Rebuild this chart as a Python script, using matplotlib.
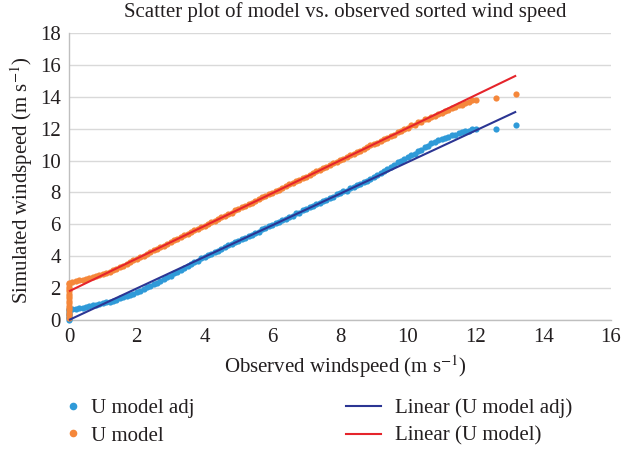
import matplotlib
matplotlib.use("Agg")
import matplotlib.pyplot as plt
from matplotlib.lines import Line2D

plt.rcParams["font.family"] = ["Liberation Serif", "DejaVu Serif"]
plt.rcParams["mathtext.fontset"] = "stix"

# Simulated speeds at calm (observed = 0) hours
calm_adj = [0.0, 0.1, 0.2, 0.3, 0.4, 0.5, 0.6, 0.66]
calm_model = [0.15, 0.3, 0.45, 0.6, 0.75, 0.9, 1.05, 1.2, 1.35, 1.5, 1.65,
              1.8, 1.95, 2.1, 2.25, 2.35]

# Sorted observed wind speed (m/s)
observed = [
    0.1, 0.2, 0.3, 0.4, 0.5, 0.6, 0.7, 0.8, 0.9, 1.0,
    1.1, 1.2, 1.3, 1.4, 1.5, 1.6, 1.7, 1.8, 1.9, 2.0,
    2.1, 2.2, 2.3, 2.4, 2.5, 2.6, 2.7, 2.8, 2.9, 3.0,
    3.1, 3.2, 3.3, 3.4, 3.5, 3.6, 3.7, 3.8, 3.9, 4.0,
    4.1, 4.2, 4.3, 4.4, 4.5, 4.6, 4.7, 4.8, 4.9, 5.0,
    5.1, 5.2, 5.3, 5.4, 5.5, 5.6, 5.7, 5.8, 5.9, 6.0,
    6.1, 6.2, 6.3, 6.4, 6.5, 6.6, 6.7, 6.8, 6.9, 7.0,
    7.1, 7.2, 7.3, 7.4, 7.5, 7.6, 7.7, 7.8, 7.9, 8.0,
    8.1, 8.2, 8.3, 8.4, 8.5, 8.6, 8.7, 8.8, 8.9, 9.0,
    9.1, 9.2, 9.3, 9.4, 9.5, 9.6, 9.7, 9.8, 9.9, 10.0,
    10.1, 10.2, 10.3, 10.4, 10.5, 10.6, 10.7, 10.8, 10.9, 11.0,
    11.1, 11.2, 11.3, 11.4, 11.5, 11.6, 11.7, 11.8, 11.9, 12.0,
    12.6, 13.2,
]

# Sorted simulated wind speed, bias-adjusted model (m/s)
u_model_adj = [
    0.66, 0.70, 0.74, 0.78, 0.83, 0.87, 0.92, 0.97, 1.02, 1.06,
    1.10, 1.16, 1.22, 1.28, 1.35, 1.42, 1.50, 1.58, 1.66, 1.75,
    1.84, 1.94, 2.04, 2.14, 2.24, 2.35, 2.46, 2.57, 2.68, 2.79,
    2.92, 3.02, 3.16, 3.26, 3.40, 3.50, 3.62, 3.72, 3.86, 3.96,
    4.08, 4.15, 4.28, 4.35, 4.48, 4.55, 4.68, 4.74, 4.88, 4.94,
    5.08, 5.14, 5.28, 5.34, 5.48, 5.54, 5.68, 5.74, 5.88, 5.94,
    6.08, 6.14, 6.28, 6.34, 6.48, 6.54, 6.68, 6.74, 6.88, 6.94,
    7.08, 7.14, 7.28, 7.34, 7.48, 7.54, 7.68, 7.74, 7.88, 7.94,
    8.06, 8.12, 8.26, 8.32, 8.46, 8.52, 8.66, 8.72, 8.86, 8.94,
    9.10, 9.22, 9.34, 9.46, 9.58, 9.70, 9.90, 9.98, 10.10, 10.20,
    10.34, 10.44, 10.58, 10.68, 10.82, 10.92, 11.08, 11.14, 11.28, 11.34,
    11.42, 11.48, 11.58, 11.62, 11.72, 11.76, 11.84, 11.88, 11.96, 11.98,
    12.00, 12.22,
]

# Sorted simulated wind speed, raw model (m/s)
u_model = [
    2.40, 2.44, 2.48, 2.53, 2.58, 2.64, 2.70, 2.76, 2.82, 2.88,
    2.95, 3.02, 3.12, 3.20, 3.32, 3.40, 3.52, 3.62, 3.74, 3.82,
    3.95, 4.04, 4.16, 4.24, 4.37, 4.46, 4.58, 4.66, 4.78, 4.88,
    4.99, 5.08, 5.20, 5.30, 5.40, 5.50, 5.62, 5.70, 5.82, 5.92,
    6.03, 6.12, 6.24, 6.33, 6.45, 6.54, 6.65, 6.74, 6.87, 6.95,
    7.06, 7.15, 7.28, 7.36, 7.48, 7.57, 7.69, 7.78, 7.90, 7.98,
    8.08, 8.18, 8.30, 8.38, 8.50, 8.60, 8.72, 8.80, 8.92, 9.00,
    9.10, 9.20, 9.32, 9.40, 9.52, 9.62, 9.73, 9.82, 9.94, 10.02,
    10.12, 10.20, 10.34, 10.42, 10.54, 10.62, 10.74, 10.84, 10.96, 11.02,
    11.10, 11.22, 11.34, 11.40, 11.56, 11.62, 11.76, 11.84, 11.98, 12.06,
    12.20, 12.26, 12.40, 12.44, 12.58, 12.62, 12.74, 12.80, 12.94, 13.00,
    13.10, 13.18, 13.30, 13.34, 13.46, 13.50, 13.62, 13.66, 13.78, 13.82,
    13.95, 14.18,
]

# Linear trend lines (slope, intercept)
fit_adj = (0.99, 0.0)
fit_model = (1.025, 1.8)
fit_range = (0.0, 13.2)

C_ADJ = "#2F9AD8"
C_MODEL = "#F5873A"
C_FIT_ADJ = "#2B3593"
C_FIT_MODEL = "#E5242B"
TXT = "#231F20"
FS = 15

fig = plt.figure(figsize=(6.41, 4.54), dpi=100)
ax = fig.add_axes([69 / 641, 1 - 320 / 454, 542 / 641, 287 / 454])

ax.scatter([0.0] * len(calm_adj) + observed, calm_adj + u_model_adj,
           s=20, color=C_ADJ, linewidths=0, zorder=3, clip_on=False)
ax.scatter([0.0] * len(calm_model) + observed, calm_model + u_model,
           s=20, color=C_MODEL, linewidths=0, zorder=4, clip_on=False)

for (m, b), col in ((fit_adj, C_FIT_ADJ), (fit_model, C_FIT_MODEL)):
    xs = list(fit_range)
    ax.plot(xs, [m * x + b for x in xs], color=col, lw=1.5, zorder=5,
            solid_capstyle="butt", clip_on=False)

ax.set_xlim(0, 16)
ax.set_ylim(0, 18)
ax.set_xticks(range(0, 17, 2))
ax.set_yticks(range(0, 19, 2))
ax.grid(axis="y", color="#D9D9D9", lw=1.0)
ax.set_axisbelow(True)
for side in ("top", "right"):
    ax.spines[side].set_visible(False)
for side in ("left", "bottom"):
    ax.spines[side].set_color("#BFBFBF")
    ax.spines[side].set_linewidth(1.0)
ax.tick_params(length=0, labelsize=FS, colors=TXT)
ax.tick_params(axis="x", pad=6)
ax.tick_params(axis="y", pad=6)

fig.text(345 / 641, 1 - 12 / 454,
         "Scatter plot of model vs. observed sorted wind speed",
         ha="center", va="center", fontsize=FS, color=TXT)
fig.text(345 / 641, 1 - 367 / 454, "Observed windspeed (m s$^{-1}$)",
         ha="center", va="center", fontsize=FS, color=TXT)
fig.text(22 / 641, 1 - 180 / 454, "Simulated windspeed (m s$^{-1}$)",
         ha="center", va="center", rotation=90, fontsize=FS, color=TXT)

dot_handles = [
    Line2D([], [], ls="", marker="o", ms=5.5, mec="none", color=C_ADJ),
    Line2D([], [], ls="", marker="o", ms=5.5, mec="none", color=C_MODEL),
]
line_handles = [
    Line2D([], [], color=C_FIT_ADJ, lw=1.5),
    Line2D([], [], color=C_FIT_MODEL, lw=1.5),
]
fig.legend(dot_handles, ["U model adj", "U model"],
           loc="center left", bbox_to_anchor=(62.6 / 641, 1 - 422 / 454),
           frameon=False, fontsize=FS, handlelength=1.0, borderpad=0,
           borderaxespad=0, handletextpad=0.37, labelspacing=0.4,
           labelcolor=TXT)
fig.legend(line_handles, ["Linear (U model adj)", "Linear (U model)"],
           loc="center left", bbox_to_anchor=(346 / 641, 1 - 422 / 454),
           frameon=False, fontsize=FS, handlelength=1.7, borderpad=0,
           borderaxespad=0, handletextpad=0.63, labelspacing=0.4,
           labelcolor=TXT)

fig.savefig("out.png", dpi=100)
